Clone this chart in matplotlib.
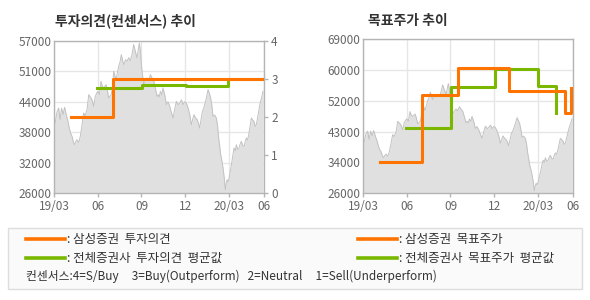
import matplotlib
matplotlib.use('Agg')
import matplotlib.pyplot as plt
from matplotlib.patches import Rectangle
from matplotlib.lines import Line2D

plt.rcParams['font.family'] = ['Noto Sans CJK KR', 'DejaVu Sans']
plt.rcParams['axes.unicode_minus'] = False

# ── Colors ──
C_ORANGE = '#ff7300'
C_GREEN = '#7ab800'
C_AREA = '#e0e0e0'
C_AREA_EDGE = '#c2c2c2'
C_GRID = '#e6e6e6'
C_SPINE = '#b4b4b4'
C_TICK = '#666666'
C_TITLE = '#333333'

# ── Data (x in months since 19/03) ──
price_x = [0.00, 0.07, 0.18, 0.30, 0.40, 0.50, 0.60, 0.71, 0.85, 0.95, 1.03, 1.12, 1.22,
           1.32, 1.40, 1.48, 1.56, 1.68, 1.79, 1.91, 2.02, 2.12, 2.25, 2.37, 2.48, 2.59,
           2.71, 2.82, 2.98, 3.10, 3.21, 3.30, 3.40, 3.56, 3.65, 3.74, 3.92, 4.00, 4.09,
           4.25, 4.35, 4.43, 4.53, 4.61, 4.70, 4.78, 4.90, 5.00, 5.12, 5.23, 5.35, 5.46,
           5.58, 5.69, 5.78, 5.85, 5.92, 5.99, 6.08, 6.15, 6.27, 6.38, 6.50, 6.61, 6.72,
           6.84, 6.95, 7.07, 7.14, 7.22, 7.30, 7.40, 7.48, 7.60, 7.71, 7.82, 7.94, 8.05,
           8.17, 8.28, 8.40, 8.52, 8.63, 8.75, 8.86, 8.97, 9.08, 9.20, 9.32, 9.43, 9.52,
           9.61, 9.72, 9.84, 9.92, 10.00, 10.10, 10.19, 10.27, 10.35, 10.47, 10.58, 10.67,
           10.76, 10.84, 10.92, 11.03, 11.15, 11.23, 11.31, 11.38, 11.45, 11.53, 11.61,
           11.69, 11.77, 11.83, 11.89, 11.96, 12.03, 12.11, 12.19, 12.28, 12.37, 12.45,
           12.53, 12.61, 12.69, 12.78, 12.87, 12.96, 13.06, 13.13, 13.21, 13.30, 13.38,
           13.47, 13.56, 13.65, 13.74, 13.82, 13.90, 13.98, 14.06, 14.13, 14.20, 14.28,
           14.36]
price = [39800, 40480, 42500, 43335, 41000, 43300, 42000, 43470, 41640, 40500, 39250,
         38200, 37560, 36300, 35850, 36500, 36870, 36300, 37560, 39930, 42310, 41800,
         43000, 46050, 45600, 45030, 43670, 45700, 46740, 46100, 48780, 47800, 47420,
         48100, 47000, 45380, 46050, 47600, 50820, 49100, 50600, 51840, 52800, 54210,
         53000, 52170, 53200, 52850, 53600, 53000, 54300, 56250, 54800, 53540, 55200,
         56600, 55100, 52170, 49800, 48100, 49000, 49460, 49000, 50140, 49500, 48900,
         47400, 45700, 46050, 45600, 46740, 46000, 47420, 46000, 44020, 44600, 43700,
         42500, 41300, 43000, 44700, 44000, 44350, 45000, 44020, 44600, 44350, 43400,
         41970, 39930, 41000, 41970, 41300, 40950, 40200, 39250, 41000, 42650, 43200,
         44020, 45500, 47080, 46300, 45380, 43800, 41640, 41900, 41300, 39800, 37220,
         35600, 33810, 32600, 31100, 29200, 26670, 27900, 28710, 28300, 29060, 30400,
         31770, 33600, 35180, 34600, 35850, 34900, 35000, 35900, 36540, 35700, 35500,
         36400, 37220, 36800, 37900, 39600, 41300, 40900, 40600, 39600, 39930, 41200,
         42650, 43800, 44700, 45600, 46740]

# investment opinion (consensus score)
opinion_x = [1.15, 4.05, 14.45]
opinion_ss = [2.0, 3.0, 3.0]
opinion_avg_x = [2.94, 6.01, 9.04, 11.98, 14.45]
opinion_avg = [2.77, 2.85, 2.81, 3.0, 3.0]

# target price
target_x = [1.17, 4.05, 6.53, 10.05, 13.91, 14.30]
target_ss = [34600, 53500, 61000, 54500, 48300, 55500]
target_avg_x = [2.94, 6.02, 9.03, 12.0, 13.29]
target_avg = [44300, 55700, 60700, 55900, 48300]

x_ticks = [0, 3, 6, 9, 12, 14.45]
x_labels = ['19/03', '06', '09', '12', '20/03', '06']
left_ylabels = ['26000', '32000', '38000', '44000', '51000', '57000']
right_ylabels = ['26000', '34000', '43000', '52000', '60000', '69000']
score_ticks = [0, 1, 2, 3, 4]

W, H = 590, 300
fig = plt.figure(figsize=(W / 100, H / 100), dpi=100)
fig.patch.set_facecolor('white')


def style_axis(ax, lo, hi, ylabels):
    ax.set_xlim(0, 14.45)
    ax.set_ylim(lo, hi)
    step = (hi - lo) / 5
    ax.set_yticks([lo + i * step for i in range(6)])
    ax.set_yticklabels(ylabels)
    ax.set_xticks(x_ticks)
    ax.set_xticklabels(x_labels)
    ax.grid(True, color=C_GRID, linewidth=1.0, zorder=0)
    ax.set_axisbelow(True)
    for s in ax.spines.values():
        s.set_color(C_SPINE)
        s.set_linewidth(1.0)
    ax.tick_params(axis='y', length=0, pad=2, labelsize=8.5, labelcolor=C_TICK)
    ax.tick_params(axis='x', length=3, width=1, color=C_SPINE, pad=2,
                   labelsize=8.5, labelcolor=C_TICK)
    ax.fill_between(price_x, price, lo, color=C_AREA, linewidth=0, zorder=1)
    ax.plot(price_x, price, color=C_AREA_EDGE, linewidth=0.7, zorder=1.5)


# ── Left: investment opinion ──
ax1 = fig.add_axes([54.3 / W, 1 - 193 / H, 210 / W, 152 / H])
style_axis(ax1, 26000, 57000, left_ylabels)
ax1b = ax1.twinx()
ax1b.set_ylim(0, 4)
ax1b.set_yticks(score_ticks)
ax1b.tick_params(axis='y', length=3, width=1, color=C_SPINE, pad=2,
                 labelsize=8.5, labelcolor=C_TICK)
for s in ax1b.spines.values():
    s.set_visible(False)
ax1b.step(opinion_avg_x, opinion_avg, where='post', color=C_GREEN, linewidth=2.2, zorder=3)
ax1b.step(opinion_x, opinion_ss, where='post', color=C_ORANGE, linewidth=2.2, zorder=4)
fig.text(55 / W, 1 - 20.5 / H, '투자의견(컨센서스) 추이', fontsize=10, fontweight='bold',
         color=C_TITLE, ha='left', va='center')

# ── Right: target price ──
ax2 = fig.add_axes([363.3 / W, 1 - 193 / H, 210 / W, 153.7 / H])
style_axis(ax2, 26000, 69000, right_ylabels)
ax2.step(target_avg_x, target_avg, where='post', color=C_GREEN, linewidth=2.2, zorder=3)
ax2.step(target_x, target_ss, where='post', color=C_ORANGE, linewidth=2.2, zorder=4)
fig.text(367.7 / W, 1 - 20.5 / H, '목표주가 추이', fontsize=10, fontweight='bold',
         color=C_TITLE, ha='left', va='center')

# ── Legend box ──
fig.add_artist(Rectangle((8 / W, 1 - 289 / H), 574 / W, 61 / H, transform=fig.transFigure,
                         facecolor='#fafafa', edgecolor='#dddddd', linewidth=1.0))

legend_rows = [
    (26, 239, C_ORANGE, ': 삼성증권  투자의견'),
    (26, 258, C_GREEN, ': 전체증권사  투자의견  평균값'),
    (358, 239, C_ORANGE, ': 삼성증권  목표주가'),
    (358, 258, C_GREEN, ': 전체증권사  목표주가  평균값'),
]
for x0, y0, col, label in legend_rows:
    fig.add_artist(Line2D([x0 / W, (x0 + 39) / W], [1 - y0 / H, 1 - y0 / H],
                          transform=fig.transFigure, color=col, linewidth=2.6))
    fig.text((x0 + 41) / W, 1 - y0 / H, label, fontsize=9, color='#333333',
             ha='left', va='center')

fig.text(26 / W, 1 - 276 / H,
         '컨센서스:4=S/Buy     3=Buy(Outperform)   2=Neutral     1=Sell(Underperform)',
         fontsize=8.5, color='#333333', ha='left', va='center')

fig.savefig('out.png', dpi=100, facecolor='white')
plt.close(fig)
